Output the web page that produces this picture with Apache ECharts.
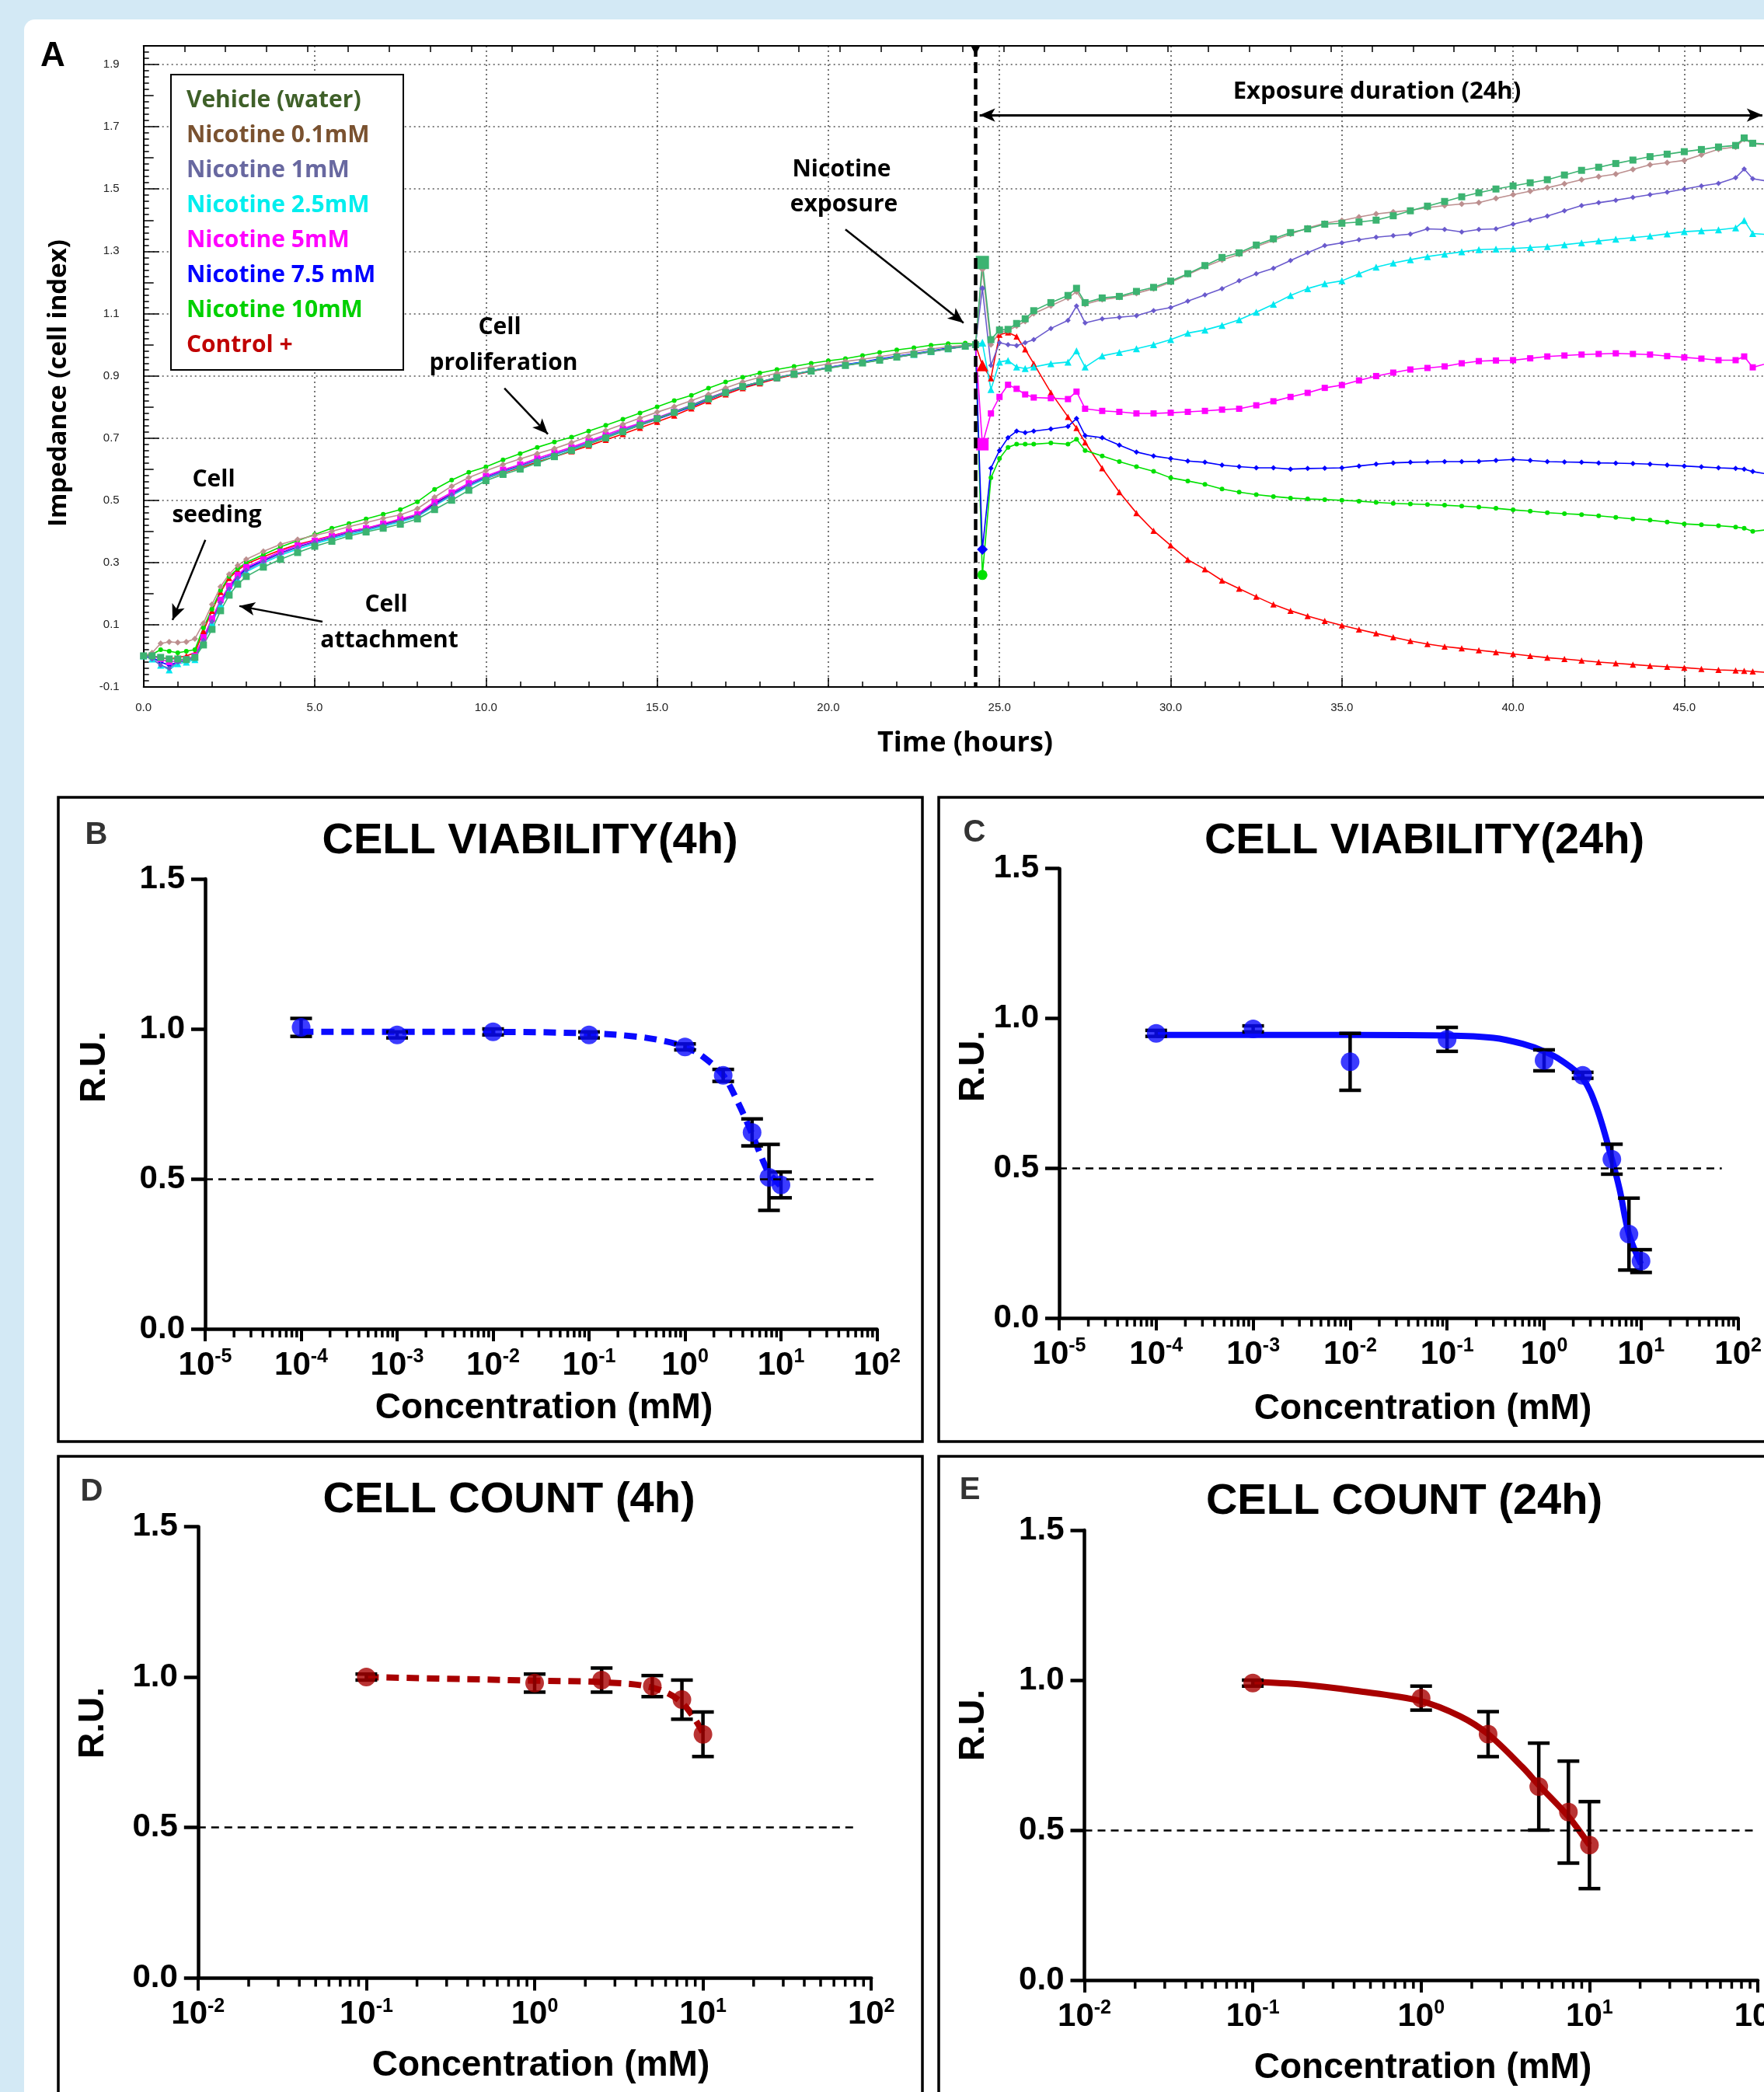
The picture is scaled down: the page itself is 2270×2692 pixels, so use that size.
<!DOCTYPE html>
<html><head><meta charset="utf-8">
<script src="https://cdn.jsdelivr.net/npm/echarts@6.0.0/dist/echarts.min.js"></script>
<style>html,body{margin:0;padding:0;background:#d3e9f5;overflow:hidden}#c{width:2270px;height:2692px}</style>
</head><body><div id="c"></div>
<script>
// ---------- Panel A data ----------
const TIME_PRE = [0,0.25,0.5,0.75,1,1.25,1.5,1.75,2,2.25,2.5,2.75,3,3.5,4,4.5,5,5.5,6,6.5,7,7.5,8,8.5,9,9.5,10,10.5,11,11.5,12,12.5,13,13.5,14,14.5,15,15.5,16,16.5,17,17.5,18,18.5,19,19.5,20,20.5,21,21.5,22,22.5,23,23.5,24,24.3];
const TIME_POST = [24.5,24.75,25,25.25,25.5,25.75,26,26.5,27,27.25,27.5,28,28.5,29,29.5,30,30.5,31,31.5,32,32.5,33,33.5,34,34.5,35,35.5,36,36.5,37,37.5,38,38.5,39,39.5,40,40.5,41,41.5,42,42.5,43,43.5,44,44.5,45,45.5,46,46.5,46.75,47,47.5];
const X_TICK_LABELS_A = ['0.0','5.0','10.0','15.0','20.0','25.0','30.0','35.0','40.0','45.0','50.0'];

const VEHICLE_PRE = [0,0,-0.005,-0.01,-0.01,-0.012,-0.005,0.035,0.085,0.145,0.195,0.23,0.255,
 0.285,0.31,0.332,0.352,0.368,0.385,0.398,0.41,0.423,0.44,
 0.47,0.5,0.532,0.563,0.583,0.6,0.62,0.64,0.66,0.68,
 0.7,0.72,0.741,0.762,0.782,0.803,0.826,0.846,0.865,0.88,
 0.894,0.905,0.915,0.924,0.933,0.941,0.95,0.96,0.969,0.978,
 0.987,0.995,1.0];
const VEHICLE_POST = [1.264,1.016,1.047,1.049,1.068,1.083,1.109,1.135,1.158,1.181,1.135,
 1.15,1.155,1.171,1.184,1.204,1.228,1.254,1.28,1.295,1.32,
 1.34,1.36,1.372,1.387,1.39,1.394,1.4,1.414,1.43,1.445,
 1.46,1.475,1.488,1.5,1.51,1.52,1.53,1.545,1.56,1.57,
 1.582,1.593,1.604,1.612,1.62,1.627,1.635,1.64,
 1.664,1.647,1.644];

const N01_PRE = [0,0.01,0.04,0.045,0.043,0.045,0.055,0.105,0.165,0.222,0.262,0.29,0.31,
 0.336,0.358,0.374,0.387,0.4,0.415,0.428,0.442,0.453,0.473,
 0.51,0.545,0.573,0.595,0.615,0.633,0.65,0.666,0.685,0.705,
 0.724,0.744,0.764,0.783,0.801,0.82,0.84,0.861,0.88,0.895,
 0.908,0.918,0.928,0.938,0.946,0.953,0.961,0.97,0.978,0.986,
 0.993,0.998,1.0];
const N01_POST = [1.243,1.0,1.04,1.045,1.06,1.075,1.1,1.125,1.15,1.17,1.13,
 1.145,1.152,1.165,1.18,1.2,1.225,1.25,1.272,1.29,1.315,
 1.335,1.355,1.375,1.39,1.399,1.41,1.42,1.426,1.432,1.44,
 1.447,1.452,1.456,1.47,1.482,1.493,1.504,1.517,1.53,1.54,
 1.548,1.563,1.578,1.585,1.592,1.61,1.628,1.635,
 1.66,1.645,1.642];

const N1_PRE = [0,-0.01,-0.03,-0.04,-0.02,-0.015,-0.008,0.05,0.11,0.17,0.215,0.25,0.275,
 0.303,0.328,0.348,0.365,0.38,0.395,0.406,0.42,0.434,0.45,
 0.485,0.518,0.548,0.573,0.593,0.61,0.63,0.648,0.666,0.686,
 0.706,0.726,0.745,0.764,0.784,0.805,0.828,0.848,0.866,0.88,
 0.894,0.905,0.915,0.926,0.934,0.942,0.951,0.96,0.968,0.977,
 0.986,0.994,1.0];
const N1_POST = [1.181,0.933,1.006,1.0,0.997,1.006,1.016,1.052,1.078,1.124,1.07,
 1.083,1.088,1.093,1.109,1.119,1.14,1.16,1.18,1.205,1.228,
 1.245,1.27,1.295,1.318,1.327,1.337,1.345,1.35,1.355,1.372,
 1.37,1.362,1.37,1.372,1.387,1.4,1.413,1.43,1.447,1.456,
 1.464,1.473,1.482,1.49,1.5,1.51,1.518,1.536,
 1.564,1.533,1.524];

const N25_PRE = [0,-0.01,-0.03,-0.045,-0.025,-0.02,-0.012,0.045,0.105,0.165,0.21,0.245,0.27,
 0.298,0.323,0.343,0.36,0.376,0.39,0.402,0.416,0.43,0.447,
 0.482,0.515,0.545,0.57,0.59,0.608,0.627,0.646,0.664,0.684,
 0.704,0.724,0.744,0.763,0.783,0.804,0.827,0.847,0.866,0.88,
 0.894,0.905,0.916,0.926,0.935,0.943,0.952,0.961,0.969,0.978,
 0.987,0.995,1.0];
const N25_POST = [1.006,0.856,0.944,0.949,0.928,0.923,0.928,0.939,0.944,0.98,0.928,
 0.964,0.975,0.987,1.0,1.016,1.037,1.047,1.062,1.08,1.104,
 1.13,1.158,1.18,1.196,1.205,1.228,1.249,1.262,1.273,1.283,
 1.291,1.298,1.305,1.307,1.309,1.312,1.315,1.321,1.327,1.333,
 1.339,1.344,1.349,1.356,1.363,1.366,1.369,1.375,
 1.399,1.357,1.353];

const N5_PRE = [0,0,-0.01,-0.02,-0.015,-0.01,0,0.06,0.12,0.18,0.225,0.26,0.285,
 0.31,0.335,0.355,0.37,0.385,0.4,0.41,0.425,0.44,0.455,
 0.495,0.525,0.555,0.578,0.598,0.615,0.635,0.653,0.67,0.69,
 0.71,0.73,0.748,0.765,0.785,0.805,0.828,0.848,0.866,0.88,
 0.895,0.905,0.915,0.927,0.935,0.942,0.952,0.962,0.97,0.978,
 0.987,0.995,1.0];
const N5_POST = [0.68,0.779,0.832,0.871,0.858,0.84,0.83,0.828,0.825,0.849,0.794,
 0.787,0.784,0.779,0.779,0.781,0.784,0.787,0.791,0.794,0.805,
 0.818,0.832,0.845,0.861,0.87,0.885,0.899,0.91,0.92,0.925,
 0.93,0.94,0.947,0.949,0.95,0.956,0.962,0.965,0.968,0.97,
 0.972,0.97,0.968,0.963,0.959,0.955,0.95,0.95,
 0.962,0.927,0.942];

const N75_PRE = [0,-0.005,-0.02,-0.03,-0.02,-0.015,-0.005,0.055,0.115,0.175,0.22,0.255,0.28,
 0.306,0.33,0.35,0.366,0.381,0.396,0.407,0.421,0.435,0.451,
 0.488,0.52,0.55,0.574,0.594,0.611,0.63,0.648,0.665,0.684,
 0.703,0.722,0.741,0.76,0.78,0.8,0.824,0.845,0.864,0.879,
 0.894,0.905,0.916,0.927,0.936,0.944,0.954,0.963,0.971,0.98,
 0.989,0.996,1.0];
const N75_POST = [0.342,0.603,0.66,0.701,0.722,0.717,0.722,0.729,0.737,0.763,0.708,
 0.701,0.677,0.655,0.642,0.634,0.626,0.622,0.613,0.608,0.604,
 0.604,0.6,0.602,0.603,0.604,0.61,0.616,0.62,0.622,0.623,
 0.624,0.624,0.625,0.628,0.631,0.628,0.624,0.623,0.622,0.62,
 0.619,0.618,0.616,0.613,0.61,0.607,0.604,0.602,
 0.6,0.592,0.583];

const N10_PRE = [0,0.005,0.02,0.015,0.01,0.015,0.02,0.09,0.15,0.21,0.255,0.28,0.3,
 0.325,0.35,0.37,0.39,0.41,0.425,0.44,0.455,0.47,0.495,
 0.535,0.565,0.59,0.607,0.63,0.65,0.67,0.687,0.703,0.722,
 0.741,0.76,0.78,0.8,0.82,0.837,0.86,0.88,0.895,0.909,
 0.92,0.93,0.94,0.948,0.955,0.965,0.975,0.983,0.99,0.998,
 1.003,1.005,1.0];
const N10_POST = [0.26,0.572,0.634,0.67,0.68,0.68,0.68,0.684,0.68,0.696,0.66,
 0.642,0.624,0.608,0.593,0.572,0.562,0.551,0.536,0.526,0.518,
 0.512,0.507,0.504,0.502,0.5,0.497,0.493,0.49,0.488,0.486,
 0.484,0.481,0.478,0.474,0.469,0.465,0.46,0.457,0.454,0.45,
 0.445,0.44,0.436,0.43,0.424,0.421,0.418,0.414,
 0.41,0.4,0.406];

const CTRL_PRE = [0,0,-0.005,-0.01,-0.005,0,0.01,0.08,0.145,0.205,0.25,0.275,0.295,
 0.318,0.34,0.358,0.372,0.386,0.4,0.41,0.423,0.437,0.452,
 0.49,0.52,0.548,0.57,0.588,0.605,0.623,0.64,0.657,0.675,
 0.694,0.713,0.733,0.752,0.772,0.795,0.818,0.84,0.86,0.876,
 0.891,0.903,0.914,0.925,0.934,0.942,0.951,0.96,0.969,0.978,
 0.987,0.995,1.0];
const CTRL_POST = [0.933,0.892,1.032,1.039,1.026,0.985,0.939,0.846,0.768,0.732,0.686,
 0.603,0.526,0.459,0.402,0.355,0.309,0.278,0.242,0.216,0.19,
 0.165,0.145,0.128,0.112,0.098,0.085,0.072,0.06,0.048,0.038,
 0.03,0.024,0.018,0.012,0.006,0,-0.006,-0.01,-0.015,-0.02,
 -0.024,-0.028,-0.032,-0.035,-0.038,-0.042,-0.045,-0.047,
 -0.048,-0.05,-0.054];

const EXPOSURE_TIME = 24.3;

// ---------- Panels B-E data ----------
const CONC_BC = [1e-4,1e-3,1e-2,1e-1,1,2.5,5,7.5,10];
const B_MEAN = [1.005,0.98,0.99,0.98,0.94,0.845,0.655,0.505,0.48];
const B_ERR  = [0.03,0.01,0.01,0.01,0.01,0.02,0.045,0.11,0.043];
const B_FIT_X = [1e-4,1e-3,1e-2,0.1,0.3,0.6,1,1.5,2.5,3.5,5,6.5,7.5,10];
const B_FIT_Y = [0.99,0.99,0.99,0.985,0.975,0.96,0.94,0.91,0.845,0.76,0.65,0.56,0.52,0.475];

const C_MEAN = [0.95,0.965,0.855,0.93,0.86,0.81,0.53,0.28,0.19];
const C_ERR  = [0.01,0.01,0.095,0.04,0.035,0.01,0.05,0.12,0.038];
const C_FIT_X = [1e-4,1e-3,1e-2,0.1,0.3,0.6,1,1.5,2.5,3.5,5,6,7.5,10];
const C_FIT_Y = [0.945,0.945,0.945,0.943,0.935,0.915,0.89,0.86,0.8,0.7,0.53,0.43,0.28,0.18];

const CONC_DE = [0.1,1,2.5,5,7.5,10];
const D_MEAN = [1.0,0.98,0.99,0.97,0.925,0.81];
const D_ERR  = [0.01,0.03,0.04,0.035,0.065,0.074];
const D_FIT_X = [0.1,0.5,1,2.5,5,7.5,10];
const D_FIT_Y = [1.0,0.992,0.988,0.983,0.965,0.915,0.815];

const E_MEAN = [0.99,0.94,0.82,0.645,0.56,0.45];
const E_ERR  = [0.01,0.04,0.075,0.145,0.17,0.145];
const E_FIT_X = [0.1,0.2,0.4,1,1.7,2.5,4,5,7.5,10];
const E_FIT_Y = [0.995,0.985,0.965,0.93,0.88,0.82,0.71,0.65,0.545,0.45];

const RU_TICKS = ['0.0','0.5','1.0','1.5'];

// ---------- build ----------
const TIME = TIME_PRE.concat(TIME_POST);
const EXPO = TIME_PRE.length;
const chart = echarts.init(document.getElementById('c'), null, {renderer:'canvas'});

const FA = 'Open Sans';
const FB = 'Liberation Sans';

function seriesA(name, pre, post, color, symbol, size, big, extra) {
  const vals = pre.concat(post);
  return Object.assign({
    name, type:'line', xAxisIndex:0, yAxisIndex:0,
    data: TIME.map((t,i)=>[t, vals[i]]),
    symbol, showAllSymbol:true,
    symbolSize: (v,p)=> (p.dataIndex===EXPO ? big : size),
    lineStyle:{color, width:1.6}, itemStyle:{color},
    emphasis:{disabled:true}
  }, extra || {});
}

const arrowML = {
  silent:true, symbol:['none','arrow'], symbolSize:[13,20], label:{show:false},
  lineStyle:{color:'#000', width:2.5, type:'solid'}, emphasis:{disabled:true},
  data:[
    [{coord:[1.805,0.3725]},{coord:[0.847,0.115]}],
    [{coord:[5.227,0.11]},{coord:[2.80,0.16]}],
    [{coord:[10.54,0.86]},{coord:[11.81,0.7125]}],
    [{coord:[20.5,1.37]},{coord:[23.95,1.07]}]
  ]
};
const dblArrowML = {
  silent:true, symbol:['arrow','arrow'], symbolSize:[13,20], label:{show:false},
  lineStyle:{color:'#000', width:3, type:'solid'}, emphasis:{disabled:true},
  data:[[{coord:[24.42,1.7375]},{coord:[47.28,1.7375]}]]
};
const expoML = {
  silent:true, symbol:['none','none'], label:{show:false},
  lineStyle:{color:'#000', width:4.5, type:[14,7]}, emphasis:{disabled:true},
  data:[[{coord:[EXPOSURE_TIME,1.96]},{coord:[EXPOSURE_TIME,-0.1]}]]
};
const expoMP = {
  silent:true, symbol:'triangle', symbolSize:[12,12], symbolRotate:180, label:{show:false},
  itemStyle:{color:'#000'},
  data:[{coord:[EXPOSURE_TIME,1.96], symbolOffset:[0,6]}]
};

const seriesListA = [
  seriesA('Control +', CTRL_PRE, CTRL_POST, '#ff0000', 'triangle', 8, 15, {markLine:expoML, markPoint:expoMP}),
  seriesA('Nicotine 10mM', N10_PRE, N10_POST, '#00e000', 'circle', 6, 13, {markLine:dblArrowML}),
  seriesA('Nicotine 7.5 mM', N75_PRE, N75_POST, '#0000ff', 'diamond', 7, 14),
  seriesA('Nicotine 5mM', N5_PRE, N5_POST, '#ff00ff', 'rect', 8, 16),
  seriesA('Nicotine 2.5mM', N25_PRE, N25_POST, '#00e8f0', 'triangle', 9, 10),
  seriesA('Nicotine 1mM', N1_PRE, N1_POST, '#6a5acd', 'diamond', 7, 8),
  seriesA('Nicotine 0.1mM', N01_PRE, N01_POST, '#bc8f8f', 'diamond', 8, 9),
  seriesA('Vehicle (water)', VEHICLE_PRE, VEHICLE_POST, '#3cb371', 'rect', 9, 17, {markLine:arrowML})
];

// ---------- dose-response panels ----------
function logLabel() {
  return {
    formatter: v => '{b|10}{s|' + Math.round(Math.log10(v)) + '}',
    margin: 24,
    rich: {
      b:{fontSize:42, fontWeight:'bold', fontFamily:FB, color:'#000', lineHeight:46},
      s:{fontSize:25, fontWeight:'bold', fontFamily:FB, color:'#000', verticalAlign:'top'}
    }
  };
}
function doseX(gi, min, max, n) {
  return {gridIndex:gi, type:'log', logBase:10, min, max, splitNumber:n,
    axisLine:{show:true, onZero:false, lineStyle:{color:'#000', width:4.5}},
    axisTick:{show:true, inside:false, length:16, lineStyle:{color:'#000', width:4}},
    minorTick:{show:false}, splitLine:{show:false}, axisLabel:logLabel()};
}
function doseY(gi) {
  return {gridIndex:gi, type:'value', min:0, max:1.5, interval:0.5,
    axisLine:{show:true, onZero:false, lineStyle:{color:'#000', width:4.5}},
    axisTick:{show:true, inside:false, length:18, lineStyle:{color:'#000', width:4.5}},
    splitLine:{show:false},
    axisLabel:{formatter: v => RU_TICKS[Math.round(v*2)], fontSize:42, fontWeight:'bold', fontFamily:FB, color:'#000', margin:26}};
}
function minorTickData(lo, hi) {
  const out = [];
  for (let e = lo; e < hi; e++) for (let k = 2; k <= 9; k++) out.push([k*Math.pow(10,e), 0]);
  return out;
}
function doseSeries(axisIdx, conc, mean, err, fx, fy, color, dashed, refEnd, xmin, xmax) {
  return [
    {type:'line', xAxisIndex:axisIdx, yAxisIndex:axisIdx, data: fx.map((x,i)=>[x, fy[i]]),
     smooth:0.35, symbol:'none', lineStyle:{color, width:8, type: dashed ? [16,10] : 'solid', cap:'butt'},
     z:2, emphasis:{disabled:true},
     markLine:{silent:true, symbol:['none','none'], label:{show:false}, emphasis:{disabled:true},
       lineStyle:{color:'#000', width:2.5, type:[10,7]},
       data:[[{coord:[xmin,0.5]},{coord:[refEnd,0.5]}]]}},
    {type:'custom', xAxisIndex:axisIdx, yAxisIndex:axisIdx, z:3, clip:false,
     data: conc.map((c,i)=>[c, mean[i], err[i]]),
     renderItem:(params, api) => {
       const x = api.value(0), y = api.value(1), e = api.value(2);
       const t = api.coord([x, y+e]), b = api.coord([x, y-e]);
       const w = 14, st = {stroke:'#000', lineWidth:4.5};
       return {type:'group', children:[
         {type:'line', shape:{x1:t[0], y1:t[1], x2:b[0], y2:b[1]}, style:st},
         {type:'line', shape:{x1:t[0]-w, y1:t[1], x2:t[0]+w, y2:t[1]}, style:st},
         {type:'line', shape:{x1:b[0]-w, y1:b[1], x2:b[0]+w, y2:b[1]}, style:st}
       ]};
     }},
    {type:'scatter', xAxisIndex:axisIdx, yAxisIndex:axisIdx, z:4, symbol:'circle', symbolSize:24,
     data: conc.map((c,i)=>[c, mean[i]]), itemStyle:{color}, emphasis:{disabled:true}},
    {type:'custom', xAxisIndex:axisIdx, yAxisIndex:axisIdx, z:3, clip:false,
     data: minorTickData(Math.round(Math.log10(xmin)), Math.round(Math.log10(xmax))),
     renderItem:(params, api) => {
       const p = api.coord([api.value(0), 0]);
       return {type:'line', shape:{x1:p[0], y1:p[1], x2:p[0], y2:p[1]+11}, style:{stroke:'#000', lineWidth:3.5}};
     }}
  ];
}

function txt(text, x, y, font, color, rot, align) {
  return {type:'text', x, y, rotation: rot || 0, z:100, silent:true,
    style:{text, font, fill: color || '#000', textAlign: align || 'center', textVerticalAlign:'middle'}};
}
function box(x, y, w, h) {
  return {type:'rect', z:1, silent:true, shape:{x, y, width:w, height:h}, style:{fill:'none', stroke:'#000', lineWidth:3.5}};
}

const fA = 'bold 30px "' + FA + '"';
const fTitle = 'bold 56px "' + FB + '"';
const fLetter = 'bold 40px "' + FB + '"';
const fAxisName = 'bold 46px "' + FB + '"';

const option = {
  animation:false,
  backgroundColor:'#d3e9f5',
  grid:[
    {left:184.7, top:59, width:2203, height:825, outerBoundsMode:'none', containLabel:false},
    {left:264, top:1131, width:864.5, height:579, outerBoundsMode:'none', containLabel:false},
    {left:1363, top:1117.7, width:873.6, height:578.3, outerBoundsMode:'none', containLabel:false},
    {left:254.8, top:1964.4, width:866.4, height:581, outerBoundsMode:'none', containLabel:false},
    {left:1395.5, top:1969, width:866.5, height:579, outerBoundsMode:'none', containLabel:false}
  ],
  legend:{
    left:206, top:96, orient:'vertical', itemWidth:1, itemHeight:36, itemGap:9,
    padding:[15,20,15,14], borderWidth:0,
    selectedMode:false, z:10,
    itemStyle:{opacity:0}, lineStyle:{opacity:0},
    textStyle:{fontFamily:FA, fontWeight:'bold', fontSize:30, lineHeight:36},
    data:[
      {name:'Vehicle (water)', textStyle:{color:'#3f6029'}},
      {name:'Nicotine 0.1mM', textStyle:{color:'#7a5230'}},
      {name:'Nicotine 1mM', textStyle:{color:'#6868a0'}},
      {name:'Nicotine 2.5mM', textStyle:{color:'#00eeee'}},
      {name:'Nicotine 5mM', textStyle:{color:'#ff00ff'}},
      {name:'Nicotine 7.5 mM', textStyle:{color:'#0000ff'}},
      {name:'Nicotine 10mM', textStyle:{color:'#00d000'}},
      {name:'Control +', textStyle:{color:'#c00000'}}
    ]
  },
  xAxis:[
    {gridIndex:0, type:'value', position:'bottom', min:0, max:50, interval:5,
     axisLine:{show:true, onZero:false, lineStyle:{color:'#000', width:2}},
     axisTick:{show:true, inside:true, length:12, lineStyle:{color:'#000', width:1.5}},
     minorTick:{show:true, splitNumber:5, length:7, lineStyle:{color:'#000', width:1.5}},
     axisLabel:{formatter:(v)=>X_TICK_LABELS_A[Math.round(v/5)], fontSize:15, fontFamily:FB, color:'#222', margin:19},
     splitLine:{show:true, lineStyle:{color:'#555', width:1.6, type:[2,4]}}},
    {gridIndex:0, type:'value', position:'top', min:0, max:41.8, interval:1,
     axisLine:{show:true, onZero:false, lineStyle:{color:'#000', width:2}},
     axisTick:{show:true, inside:true, length:8, lineStyle:{color:'#000', width:1.5}},
     axisLabel:{show:false}, splitLine:{show:false}},
    doseX(1, 1e-5, 1e2, 7),
    doseX(2, 1e-5, 1e2, 7),
    doseX(3, 1e-2, 1e2, 4),
    doseX(4, 1e-2, 1e2, 4)
  ],
  yAxis:[
    {gridIndex:0, type:'value', position:'left', min:-0.1, max:1.96, interval:0.2,
     axisLine:{show:true, onZero:false, lineStyle:{color:'#000', width:2}},
     axisTick:{show:true, inside:true, length:20, lineStyle:{color:'#000', width:1.5}},
     minorTick:{show:true, splitNumber:10, length:7, lineStyle:{color:'#000', width:1.5}},
     axisLabel:{formatter:(v)=>v.toFixed(1), showMaxLabel:false, fontSize:15, fontFamily:FB, color:'#222', margin:31},
     splitLine:{show:true, lineStyle:{color:'#555', width:1.6, type:[2,4]}}},
    {gridIndex:0, type:'value', position:'left', min:-0.1, max:1.96, interval:0.1,
     axisLine:{show:false}, axisLabel:{show:false}, splitLine:{show:false},
     axisTick:{show:true, inside:true, length:13, lineStyle:{color:'#000', width:1.5}}},
    doseY(1), doseY(2), doseY(3), doseY(4)
  ],
  series: [].concat(
    seriesListA,
    doseSeries(2, CONC_BC, B_MEAN, B_ERR, B_FIT_X, B_FIT_Y, '#0a0aff', true, 93, 1e-5, 1e2),
    doseSeries(3, CONC_BC, C_MEAN, C_ERR, C_FIT_X, C_FIT_Y, '#0a0aff', false, 68, 1e-5, 1e2),
    doseSeries(4, CONC_DE, D_MEAN, D_ERR, D_FIT_X, D_FIT_Y, '#a80000', true, 84, 1e-2, 1e2),
    doseSeries(5, CONC_DE, E_MEAN, E_ERR, E_FIT_X, E_FIT_Y, '#a80000', false, 100, 1e-2, 1e2)
  ),
  graphic:[
    {type:'rect', z:-10, silent:true, shape:{x:31, y:25, width:2400, height:2800, r:14}, style:{fill:'#fff'}},
    {type:'rect', z:5, silent:true, shape:{x:220, y:96, width:299, height:380}, style:{fill:'#fff', stroke:'#000', lineWidth:2}},
    box(75, 1026, 1112, 829), box(1208, 1026, 1200, 829),
    box(75, 1874, 1112, 900), box(1208, 1874, 1200, 900),
    txt('A', 68, 73, 'bold 44px "' + FB + '"'),
    txt('Impedance (cell index)', 76, 493, 'bold 33px "' + FA + '"', '#000', Math.PI/2),
    txt('Time (hours)', 1242, 957, 'bold 36px "' + FA + '"'),
    txt('Cell', 275, 617, fA), txt('seeding', 279, 663, fA),
    txt('Cell', 497, 778, fA), txt('attachment', 501, 824, fA),
    txt('Cell', 643, 421, fA), txt('proliferation', 648, 467, fA),
    txt('Nicotine', 1083, 218, fA), txt('exposure', 1086, 263, fA),
    txt('Exposure duration (24h)', 1772, 118, 'bold 31px "' + FA + '"'),
    txt('B', 124, 1075, fLetter, '#333'),
    txt('CELL VIABILITY(4h)', 682, 1083, fTitle),
    txt('R.U.', 122, 1373, fAxisName, '#000', Math.PI/2),
    txt('Concentration (mM)', 700, 1812, fAxisName),
    txt('C', 1254, 1072, fLetter, '#333'),
    txt('CELL VIABILITY(24h)', 1833, 1083, fTitle),
    txt('R.U.', 1253, 1372, fAxisName, '#000', Math.PI/2),
    txt('Concentration (mM)', 1831, 1813, fAxisName),
    txt('D', 118, 1920, fLetter, '#333'),
    txt('CELL COUNT (4h)', 655, 1931, fTitle),
    txt('R.U.', 120, 2217, fAxisName, '#000', Math.PI/2),
    txt('Concentration (mM)', 696, 2658, fAxisName),
    txt('E', 1248, 1918, fLetter, '#333'),
    txt('CELL COUNT (24h)', 1807, 1933, fTitle),
    txt('R.U.', 1253, 2220, fAxisName, '#000', Math.PI/2),
    txt('Concentration (mM)', 1831, 2661, fAxisName)
  ]
};
chart.setOption(option);
</script></body></html>
